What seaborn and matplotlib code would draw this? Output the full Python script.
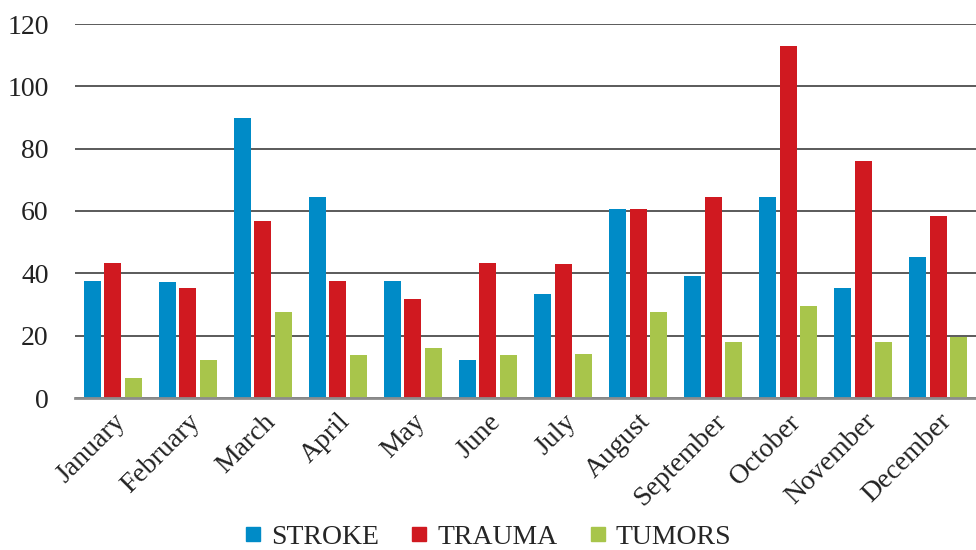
import numpy as np
import pandas as pd
import seaborn as sns
import matplotlib.pyplot as plt
from matplotlib.lines import Line2D

months = ['January', 'February', 'March', 'April', 'May', 'June', 'July',
          'August', 'September', 'October', 'November', 'December']
stroke = [37.5, 37.2, 89.9, 64.5, 37.5, 12.1, 33.3, 60.6, 39.1, 64.5, 35.3, 45.2]
trauma = [43.3, 35.3, 56.8, 37.5, 31.7, 43.3, 43.0, 60.6, 64.5, 113.0, 76.1, 58.4]
tumors = [6.3, 12.1, 27.5, 13.7, 16.0, 13.7, 14.0, 27.5, 17.9, 29.5, 17.9, 19.5]
series = ['STROKE', 'TRAUMA', 'TUMORS']
colors = ['#008bc7', '#d01920', '#a8c54b']

df = pd.DataFrame({'month': months * 3,
                   'value': stroke + trauma + tumors,
                   'series': np.repeat(series, len(months))})

sns.set_style("white")
plt.rcParams['font.family'] = ['Liberation Serif', 'DejaVu Serif']

fig = plt.figure(figsize=(9.76, 5.5), dpi=100)
ax = fig.add_axes([75 / 976, 1 - 398 / 550, 1 - 75 / 976, (398 - 24) / 550])

sns.barplot(data=df, x='month', y='value', hue='series', palette=colors,
            width=0.82, gap=0.17, saturation=1, linewidth=0, ax=ax,
            legend=False, zorder=3)

ax.set_xlim(-0.5, 11.5)
ax.set_ylim(0, 120)
ax.set_yticks(range(0, 121, 20))
ax.yaxis.grid(True, color='#2e2e2e', lw=1.1, zorder=0)
ax.set_axisbelow(True)
for s in ['top', 'right', 'left']:
    ax.spines[s].set_visible(False)
ax.spines['bottom'].set_color('#8c8c8c')
ax.spines['bottom'].set_linewidth(2)
ax.spines['bottom'].set_zorder(4)
ax.set_xlabel('')
ax.set_ylabel('')
ax.tick_params(axis='both', length=0, colors='#222222')
ax.tick_params(axis='y', pad=19, labelsize=20)
ax.tick_params(axis='x', pad=8)
plt.setp(ax.get_xticklabels(), rotation=45, ha='right', rotation_mode='anchor', fontsize=20)

handles = [Line2D([], [], marker='s', ls='', color=c, markersize=10) for c in colors]
fig.legend(handles, series, loc='center', bbox_to_anchor=(0.498, 0.024), ncol=3,
           frameon=False, fontsize=20, handletextpad=0.2, columnspacing=1.0,
           handlelength=0.9)

fig.savefig('out.png', dpi=100)
